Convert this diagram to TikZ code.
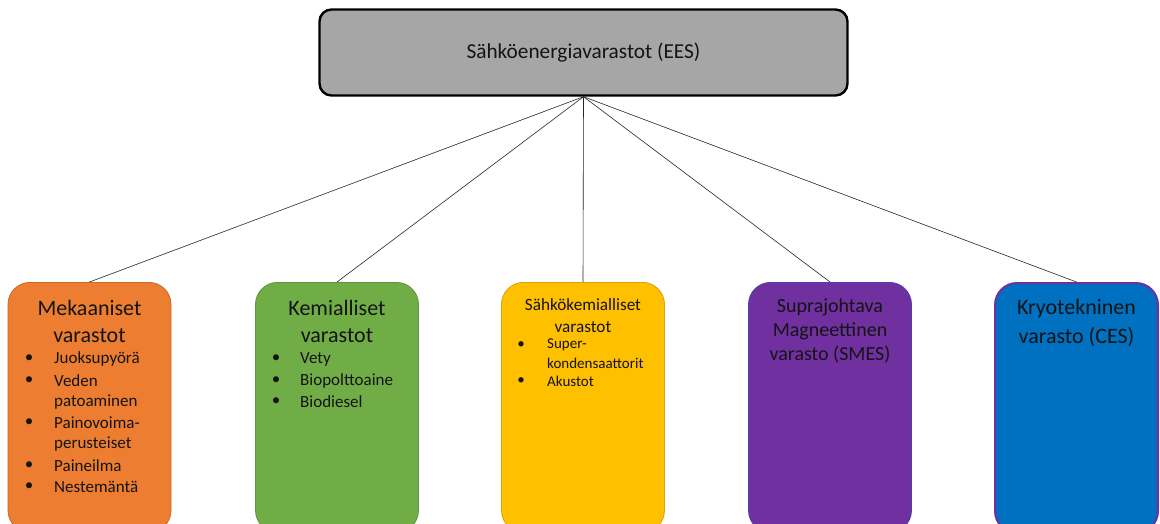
\documentclass[tikz,border=0pt]{standalone}
\usepackage{fontspec}
\setmainfont{Carlito}
\definecolor{topfill}{HTML}{A6A6A6}
\definecolor{cOrange}{HTML}{ED7D31}
\definecolor{cGreen}{HTML}{70AD47}
\definecolor{cGold}{HTML}{FFC000}
\definecolor{cPurple}{HTML}{7030A0}
\definecolor{cBlue}{HTML}{0070C0}
\definecolor{txt}{HTML}{141414}
\tikzset{
  catbox/.style={draw, rounded corners=22pt, minimum width=163pt, minimum height=250pt, anchor=north, inner sep=0pt, line width=0.8pt},
  ttl/.style={text=txt, font=\fontsize{22}{26}\selectfont, anchor=center, inner sep=0pt},
  itm/.style={text=txt, font=\fontsize{17}{20}\selectfont, anchor=west, inner sep=0pt},
  bul/.style={text=txt, font=\fontsize{17}{20}\selectfont, anchor=center, inner sep=0pt},
  conn/.style={draw=black!85, line width=0.6pt}
}
\begin{document}
\begin{tikzpicture}[x=1pt,y=-1pt]
\useasboundingbox (0,0) rectangle (1160,523);
\clip (0,0) rectangle (1160,523);
\fill[white] (0,0) rectangle (1160,523);
% top box
\node[draw=black, line width=2.4pt, fill=topfill, rounded corners=12pt, minimum width=528pt, minimum height=86pt, inner sep=0pt,
  text=txt, font=\fontsize{21.3}{25}\selectfont] (top) at (583.5,52.5) {Sähköenergiavarastot (EES)};
% category boxes
\node[catbox, fill=cOrange, draw=cOrange!85!black] (b1) at (89.5,282) {};
\node[catbox, fill=cGreen, draw=cGreen!85!black] (b2) at (337,282) {};
\node[catbox, fill=cGold, draw=cGold!85!black] (b3) at (583,282) {};
\node[catbox, fill=cPurple, draw=cPurple!70!cBlue] (b4) at (830,282) {};
\node[catbox, fill=cBlue, draw=cPurple, line width=2pt] (b5) at (1076.5,282) {};
% connectors
\draw[conn] (top.south) -- (b1.north);
\draw[conn] (top.south) -- (b2.north);
\draw[conn] (top.south) -- (b3.north);
\draw[conn] (top.south) -- (b4.north);
\draw[conn] (top.south) -- (b5.north);
% box 1 text
\node[ttl] (t1a) at (89.5,308) {Mekaaniset};
\node[ttl] (t1b) at (89.5,336) {varastot};
\foreach \y/\t [count=\i] in {359/Juoksupyörä,381/Veden,423/Painovoima-,466/Paineilma,487/Nestemäntä}{
  \node[bul] (b1bul\i) at (29,\y) {\textbullet};
  \node[itm] (b1it\i) at (54,\y) {\t};
}
\node[itm] (b1itx) at (54,402) {patoaminen};
\node[itm] (b1ity) at (54,444) {perusteiset};
% box 2 text
\node[ttl] (t2a) at (337,308) {Kemialliset};
\node[ttl] (t2b) at (337,336) {varastot};
\foreach \y/\t [count=\i] in {359/Vety,381/Biopolttoaine,402/Biodiesel}{
  \node[bul] (b2bul\i) at (276,\y) {\textbullet};
  \node[itm] (b2it\i) at (300,\y) {\t};
}
% box 3 text
\node[ttl, font=\fontsize{17.2}{20}\selectfont] (t3a) at (583,305) {Sähkökemialliset};
\node[ttl, font=\fontsize{17.2}{20}\selectfont] (t3b) at (583,327) {varastot};
\node[bul, font=\fontsize{15}{18}\selectfont] (b3bul1) at (521,345) {\textbullet};
\node[itm, font=\fontsize{15}{18}\selectfont] (b3it1) at (547,345) {Super-};
\node[itm, font=\fontsize{15}{18}\selectfont] (b3it1b) at (547,363) {kondensaattorit};
\node[bul, font=\fontsize{15}{18}\selectfont] (b3bul2) at (521,381) {\textbullet};
\node[itm, font=\fontsize{15}{18}\selectfont] (b3it2) at (547,381) {Akustot};
% box 4 text
\node[ttl, font=\fontsize{20}{24}\selectfont] (t4a) at (830,307) {Suprajohtava};
\node[ttl, font=\fontsize{20}{24}\selectfont] (t4b) at (830,331) {Magneettinen};
\node[ttl, font=\fontsize{20}{24}\selectfont] (t4c) at (830,355) {varasto (SMES)};
% box 5 text
\node[ttl] (t5a) at (1076.5,309) {Kryotekninen};
\node[ttl] (t5b) at (1076.5,337) {varasto (CES)};
\end{tikzpicture}
\end{document}
